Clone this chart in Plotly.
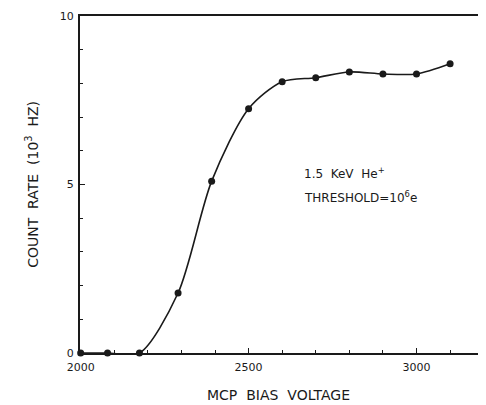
import plotly.graph_objects as go

voltage = [2000, 2080, 2175, 2290, 2390, 2500, 2600, 2700, 2800, 2900, 3000, 3100]
count_rate = [0.0, 0.0, 0.0, 1.78, 5.1, 7.25, 8.05, 8.17, 8.34, 8.28, 8.28, 8.58]

x_ticks = [2000, 2500, 3000]
y_ticks = [0, 5, 10]

ink = "#1a1a1a"
font_family = "DejaVu Sans"

fig = go.Figure()
fig.add_trace(go.Scatter(
    x=voltage, y=count_rate,
    mode="lines+markers",
    line=dict(color=ink, width=1.6, shape="spline", smoothing=0.8),
    marker=dict(color=ink, size=7),
    cliponaxis=False,
    showlegend=False,
))

fig.add_annotation(x=0.552, y=0.534, xref="paper", yref="paper", xanchor="left",
                   text="1.5  KeV  He<sup>+</sup>", showarrow=False,
                   font=dict(family=font_family, size=12, color=ink))
fig.add_annotation(x=0.552, y=0.463, xref="paper", yref="paper", xanchor="left",
                   text="THRESHOLD=10<sup>6</sup>e", showarrow=False,
                   font=dict(family=font_family, size=12, color=ink))

# axis titles
fig.add_annotation(x=-0.121, y=0.5, xref="paper", yref="paper", xanchor="center", yanchor="middle",
                   text="COUNT  RATE  (10<sup>3</sup>  HZ)", textangle=-90, showarrow=False,
                   font=dict(family=font_family, size=14, color=ink))
fig.add_annotation(x=0.495, y=-0.124, xref="paper", yref="paper", xanchor="center", yanchor="middle",
                   text="MCP  BIAS  VOLTAGE", showarrow=False,
                   font=dict(family=font_family, size=14, color=ink))

fig.update_layout(
    width=478, height=397,
    margin=dict(l=72, r=2, t=6, b=52),
    paper_bgcolor="white", plot_bgcolor="white",
    font=dict(family=font_family, color=ink, size=11),
    xaxis=dict(
        range=[1998, 3195], tickvals=x_ticks, ticktext=[str(v) for v in x_ticks],
        ticks="inside", ticklen=5, tickwidth=1.2, tickcolor=ink,
        minor=dict(dtick=100, tick0=2000, ticks="inside", ticklen=3, tickwidth=1.2, tickcolor=ink),
        showline=True, linecolor=ink, linewidth=2, mirror=True, showgrid=False, zeroline=False,
        ticklabelstandoff=3, ticklabeloverflow="allow",
    ),
    yaxis=dict(
        range=[0, 10], tickvals=y_ticks, ticktext=[str(v) for v in y_ticks],
        ticks="inside", ticklen=5, tickwidth=1.2, tickcolor=ink,
        minor=dict(dtick=1, tick0=0, ticks="inside", ticklen=3, tickwidth=1.2, tickcolor=ink),
        showline=True, linecolor=ink, linewidth=2, mirror=True, showgrid=False, zeroline=False,
        ticklabelstandoff=2, ticklabeloverflow="allow",
    ),
)

fig.write_html("out.html")
